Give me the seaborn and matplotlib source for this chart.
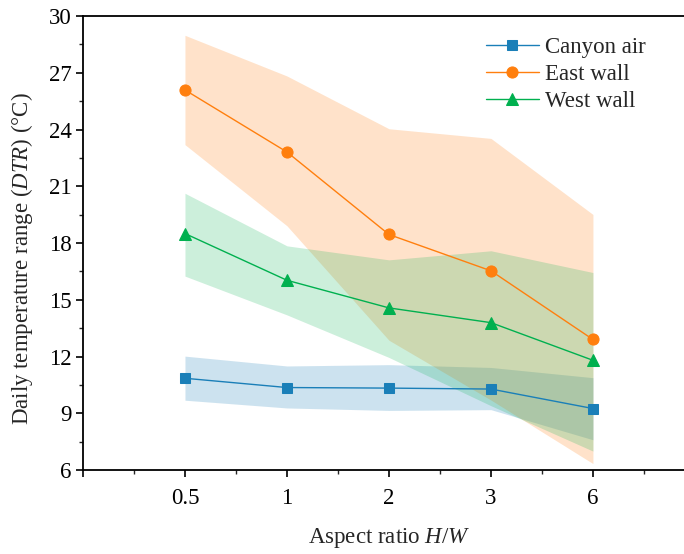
import matplotlib
matplotlib.use("Agg")
import matplotlib.pyplot as plt
import seaborn as sns
import numpy as np
from matplotlib.ticker import MultipleLocator, FixedLocator

sns.set_style("ticks")
plt.rcParams['font.family'] = ['Liberation Serif', 'DejaVu Serif']
plt.rcParams['mathtext.fontset'] = 'custom'
plt.rcParams['mathtext.rm'] = 'Liberation Serif'
plt.rcParams['mathtext.it'] = 'Liberation Serif:italic'

# Data
categories = ["0.5", "1", "2", "3", "6"]
canyon_air = [10.85, 10.36, 10.33, 10.28, 9.25]
canyon_upper = [12.02, 11.50, 11.57, 11.42, 10.88]
canyon_lower = [9.69, 9.28, 9.15, 9.19, 7.60]
east_wall = [26.09, 22.81, 18.45, 16.53, 12.90]
east_upper = [28.98, 26.83, 24.04, 23.53, 19.51]
east_lower = [23.20, 18.91, 12.86, 9.70, 6.34]
west_wall = [18.50, 16.03, 14.57, 13.79, 11.80]
west_upper = [20.63, 17.85, 17.11, 17.59, 16.44]
west_lower = [16.25, 14.20, 11.95, 9.40, 7.00]

c_blue = "#1a7fb8"
c_orange = "#ff7f0e"
c_green = "#00b04f"

pos = np.arange(1, len(categories) + 1)

fig = plt.figure(figsize=(6.84, 5.54), dpi=100)
ax = fig.add_axes([0.1213, 0.1516, 1.016 - 0.1213, 0.9711 - 0.1516])

ax.fill_between(pos, canyon_lower, canyon_upper, color=c_blue, alpha=0.22, lw=0)
ax.fill_between(pos, east_lower, east_upper, color=c_orange, alpha=0.22, lw=0)
ax.fill_between(pos, west_lower, west_upper, color=c_green, alpha=0.2, lw=0)

sns.lineplot(x=pos, y=canyon_air, ax=ax, color=c_blue, marker='s', markersize=7,
             markeredgecolor=c_blue, lw=1, label="Canyon air")
sns.lineplot(x=pos, y=east_wall, ax=ax, color=c_orange, marker='o', markersize=8,
             markeredgecolor=c_orange, lw=1, label="East wall")
sns.lineplot(x=pos, y=west_wall, ax=ax, color=c_green, marker='^', markersize=9,
             markeredgecolor=c_green, lw=1, label="West wall")

ax.set_xlim(0, 6)
ax.set_ylim(6, 30)
ax.xaxis.set_major_locator(FixedLocator(np.arange(0, 7)))
ax.set_xticklabels([""] + categories + [""])
ax.xaxis.set_minor_locator(FixedLocator(np.arange(0.5, 6, 1)))
ax.yaxis.set_major_locator(MultipleLocator(3))
ax.yaxis.set_minor_locator(MultipleLocator(1.5))

ax.tick_params(which='major', direction='out', length=5, width=1.2, labelsize=16.5, colors='black')
ax.tick_params(which='minor', direction='out', length=3, width=1.0)
ax.tick_params(axis='x', pad=8)
ax.tick_params(axis='y', pad=3)
for s in ['left', 'bottom', 'top', 'right']:
    ax.spines[s].set_linewidth(1.3)
    ax.spines[s].set_color('black')

ax.set_xlabel(r"Aspect ratio $\mathit{H/W}$", fontsize=16.5, labelpad=12)
ax.set_ylabel(r"Daily temperature range ($\mathit{DTR}$) (°C)", fontsize=16.5)
ax.yaxis.set_label_coords(-0.079, 0.465)

leg = ax.legend(loc='upper left', bbox_to_anchor=(0.625, 0.999), frameon=False,
                fontsize=16.5, handlelength=2.3, labelspacing=0.25, handletextpad=0.25)

fig.savefig("out.png", dpi=100)
